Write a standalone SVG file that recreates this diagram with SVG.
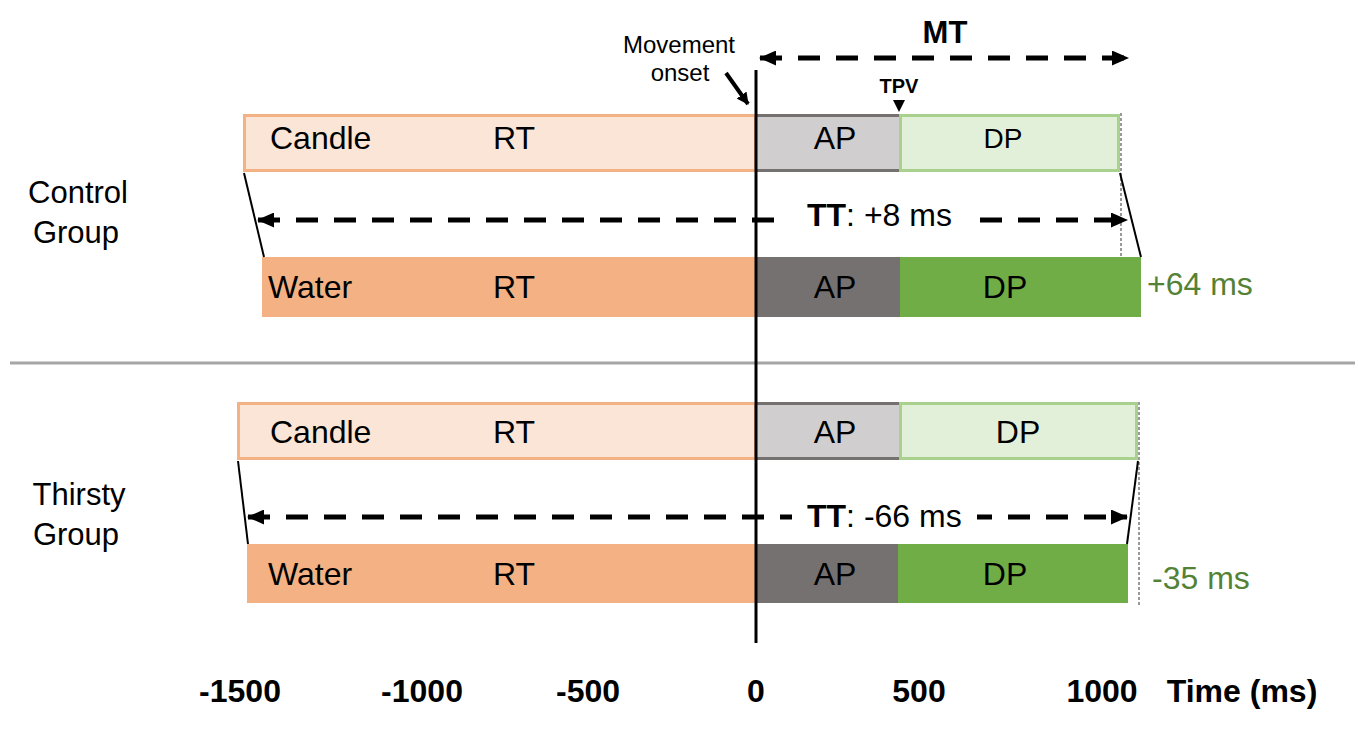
<svg xmlns="http://www.w3.org/2000/svg" width="1358" height="733" viewBox="0 0 1358 733">
<defs>
<marker id="ah" viewBox="0 0 17 15" refX="16" refY="7.5" markerWidth="17" markerHeight="15" markerUnits="userSpaceOnUse" orient="auto-start-reverse"><path d="M0,0 L17,7.5 L0,15 Z" fill="#000"/></marker>
<marker id="ah2" viewBox="0 0 12 12" refX="11" refY="6" markerWidth="12" markerHeight="12" markerUnits="userSpaceOnUse" orient="auto"><path d="M0,0 L12,6 L0,12 Z" fill="#000"/></marker>
<style>
text{font-family:"Liberation Sans",Arial,sans-serif;fill:#000}
.lbl{font-size:32px}
.dp{font-size:28px}
.grp{font-size:31px;text-anchor:middle}
.ms{font-size:32px;fill:#548235}
.ax{font-family:"Liberation Sans Narrow","Liberation Sans",sans-serif;font-size:32px;font-weight:bold;text-anchor:middle}
.candleRT{fill:#FBE5D6;stroke:#F4B183;stroke-width:3}
.waterRT{fill:#F4B183}
.candleAP{fill:#D0CECE}
.apEdge{stroke:#767171;stroke-width:3}
.waterAP{fill:#767171}
.candleDP{fill:#E2F0D9;stroke:#A9D18E;stroke-width:3}
.waterDP{fill:#70AD47}
.dash{stroke:#000;stroke-width:5;stroke-dasharray:22 16;fill:none}
.slant{stroke:#000;stroke-width:2}
.dot{stroke:#333;stroke-width:1;stroke-dasharray:3 2}
</style>
</defs>
<rect width="1358" height="733" fill="#fff"/>

<line x1="10" y1="363" x2="1355" y2="363" stroke="#A6A6A6" stroke-width="3"/>

<g id="labels">
<text class="grp" x="78" y="203">Control</text>
<text class="grp" x="76" y="243">Group</text>
<text class="grp" x="79" y="505">Thirsty</text>
<text class="grp" x="76" y="545">Group</text>
</g>

<g id="control-candle">
<rect class="candleRT" x="244.5" y="115.5" width="511" height="55"/>
<rect class="candleAP" x="756" y="114" width="143" height="58"/>
<line class="apEdge" x1="756" y1="115.5" x2="899" y2="115.5"/>
<line class="apEdge" x1="756" y1="170.5" x2="899" y2="170.5"/>
<rect class="candleDP" x="900.5" y="115.5" width="218" height="55"/>
<text class="lbl" x="270" y="149">Candle</text>
<text class="lbl" x="493" y="149">RT</text>
<text class="lbl" x="835" y="149" text-anchor="middle">AP</text>
<text class="dp" x="1003" y="148" text-anchor="middle">DP</text>
</g>

<g id="control-water">
<rect class="waterRT" x="262" y="257" width="494" height="60"/>
<rect class="waterAP" x="756" y="257" width="144" height="60"/>
<rect class="waterDP" x="900" y="257" width="241" height="60"/>
<text class="lbl" x="268" y="298">Water</text>
<text class="lbl" x="493" y="298">RT</text>
<text class="lbl" x="835" y="298" text-anchor="middle">AP</text>
<text class="lbl" x="1005" y="298" text-anchor="middle">DP</text>
<text class="ms" x="1147" y="295">+64 ms</text>
</g>

<g id="thirsty-candle">
<rect class="candleRT" x="238.5" y="403.5" width="517" height="55"/>
<rect class="candleAP" x="756" y="402" width="143" height="58"/>
<line class="apEdge" x1="756" y1="403.5" x2="899" y2="403.5"/>
<line class="apEdge" x1="756" y1="458.5" x2="899" y2="458.5"/>
<rect class="candleDP" x="900.5" y="403.5" width="236" height="55"/>
<text class="lbl" x="270" y="443">Candle</text>
<text class="lbl" x="493" y="443">RT</text>
<text class="lbl" x="835" y="443" text-anchor="middle">AP</text>
<text class="lbl" x="1018" y="443" text-anchor="middle">DP</text>
</g>

<g id="thirsty-water">
<rect class="waterRT" x="247" y="544" width="509" height="59"/>
<rect class="waterAP" x="756" y="544" width="142" height="59"/>
<rect class="waterDP" x="898" y="544" width="230" height="59"/>
<text class="lbl" x="268" y="585">Water</text>
<text class="lbl" x="493" y="585">RT</text>
<text class="lbl" x="835" y="585" text-anchor="middle">AP</text>
<text class="lbl" x="1005" y="585" text-anchor="middle">DP</text>
<text class="ms" x="1152" y="589">-35 ms</text>
</g>

<g id="connectors">
<line class="dot" x1="1121" y1="113" x2="1121" y2="257"/>
<line class="dot" x1="1139" y1="402" x2="1139" y2="605"/>
<line class="slant" x1="244" y1="173" x2="264" y2="257"/>
<line class="slant" x1="1120" y1="173" x2="1141" y2="257"/>
<line class="slant" x1="238" y1="461" x2="248" y2="544"/>
<line class="slant" x1="1138" y1="461" x2="1127" y2="544"/>
<line class="dash" x1="258" y1="220" x2="1127" y2="220" marker-start="url(#ah)" marker-end="url(#ah)"/>
<line class="dash" x1="248" y1="517" x2="1127" y2="517" marker-start="url(#ah)" marker-end="url(#ah)"/>
<line class="dash" x1="760" y1="58" x2="1128" y2="58" marker-start="url(#ah)" marker-end="url(#ah)"/>
<line x1="726" y1="73" x2="748" y2="104" stroke="#000" stroke-width="4" marker-end="url(#ah2)"/>
<line x1="756" y1="70" x2="756" y2="643" stroke="#000" stroke-width="3"/>
<path d="M893,100 L905,100 L899,112 Z" fill="#000"/>
</g>

<g id="tt-labels">
<rect x="785" y="200" width="180" height="40" fill="#fff"/>
<text class="lbl" x="807" y="226"><tspan font-weight="bold">TT</tspan>: +8 ms</text>
<rect x="792" y="497" width="185" height="40" fill="#fff"/>
<text class="lbl" x="807" y="527"><tspan font-weight="bold">TT</tspan>: -66 ms</text>
</g>

<g id="top-labels">
<text x="945" y="43" font-size="31" font-weight="bold" text-anchor="middle">MT</text>
<text x="679" y="53" font-size="24" text-anchor="middle">Movement</text>
<text x="680" y="81" font-size="24" text-anchor="middle">onset</text>
<text x="899" y="93" font-family="Liberation Sans Narrow, Liberation Sans, sans-serif" font-size="20" font-weight="bold" text-anchor="middle">TPV</text>
</g>

<g id="axis">
<text class="ax" x="240" y="702">-1500</text>
<text class="ax" x="422" y="702">-1000</text>
<text class="ax" x="588" y="702">-500</text>
<text class="ax" x="756" y="702">0</text>
<text class="ax" x="919" y="702">500</text>
<text class="ax" x="1102" y="702">1000</text>
<text class="ax" x="1242" y="702" font-size="33">Time (ms)</text>
</g>
</svg>
